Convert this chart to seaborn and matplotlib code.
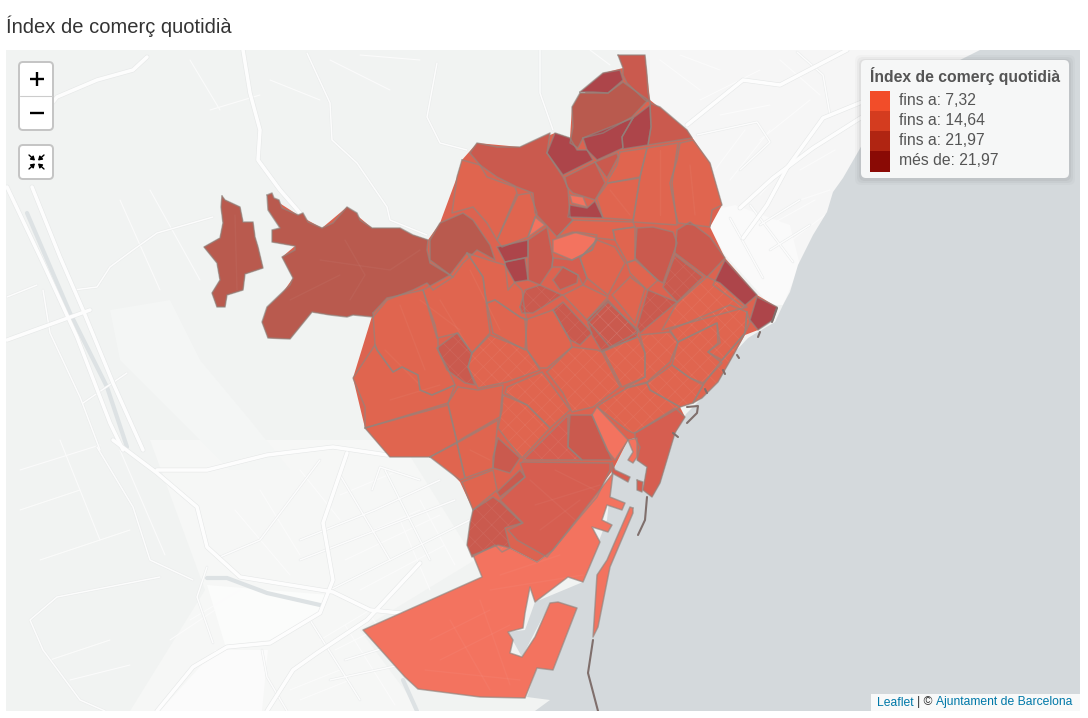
import matplotlib
matplotlib.use("Agg")
import matplotlib.pyplot as plt
from matplotlib.patches import FancyBboxPatch, Polygon, Rectangle
import pandas as pd
import seaborn as sns

# barris: contorns llegits de la imatge (pixels de la captura)
exclave = [(222,196),(225,200),(240,207),(243,222),(253,222),(255,237),(258,247),(263,268),(245,274),(243,290),(227,295),(225,307),(217,307),(212,293),(220,280),(217,263),(204,247),(220,238),(223,223),(221,207)]
vallvidrera = [(267,195),(272,193),(274,198),(279,200),(282,208),(298,215),(303,213),(308,222),(322,228),(333,223),(347,207),(357,213),(360,220),(372,228),(400,228),(413,235),(428,240),(427,250),(430,263),(453,277),(433,290),(427,283),(413,290),(387,300),(373,317),(353,315),(347,317),(330,315),(312,312),(290,339),(268,338),(262,322),(267,307),(290,285),(293,278),(282,257),(295,250),(295,246),(272,242),(272,230),(280,228),(268,210)]
sarria = [(430,240),(440,223),(463,213),(473,220),(490,245),(495,260),(477,250),(463,263),(453,277),(430,260)]
tibidabo = [(462,160),(480,165),(487,177),(515,187),(517,193),(497,240),(487,223),(473,207),(452,213),(457,177)]
putxet = [(518,195),(530,193),(537,213),(528,237),(502,247),(497,240)]
farro = [(535,217),(545,225),(528,237)]
vallcarca = [(497,247),(528,240),(528,257),(505,262)]
coll = [(505,262),(525,258),(528,280),(515,282),(508,290)]
gracia_nord = [(547,227),(553,258),(552,267),(540,285),(528,280),(528,240)]
parc_guell = [(553,240),(577,232),(597,235),(592,250),(572,260),(553,252)]
carmel = [(553,258),(572,260),(592,250),(597,240),(580,258),(587,278),(583,285),(578,275),(563,267),(552,267)]
horta = [(470,153),(477,143),(497,147),(520,147),(550,133),(547,153),(563,177),(568,188),(570,217),(573,220),(557,237),(548,227),(535,213),(533,193),(517,187),(497,177),(480,165)]
vall_hebron = [(547,153),(555,133),(570,138),(577,150),(587,150),(593,160),(563,175)]
montbau = [(565,177),(595,162),(605,183),(595,200),(573,193),(567,187)]
canyelles = [(595,162),(617,153),(618,157),(607,178)]
guineueta = [(570,195),(583,197),(587,207),(572,203)]
can_baro = [(570,205),(587,208),(595,201),(603,218),(568,217)]
ciutat_meridiana = [(618,55),(645,55),(647,75),(648,92),(650,102),(645,100),(627,83),(623,75),(623,68)]
torre_baro = [(580,92),(603,73),(620,70),(623,80),(608,93),(593,92)]
roquetes = [(580,93),(608,93),(623,82),(648,100),(632,117),(603,133),(583,138),(578,148),(570,143),(573,127),(572,107)]
trinitat_nova = [(583,138),(623,122),(633,118),(622,137),(623,148),(597,160),(587,150)]
prosperitat = [(633,118),(650,105),(651,127),(648,145),(623,149),(622,137)]
vallbona = [(650,103),(660,107),(687,130),(692,138),(648,145),(651,127)]
bon_pastor = [(680,143),(693,140),(710,163),(722,205),(712,210),(710,227),(678,223),(675,210),(670,183),(677,160)]
sant_andreu = [(647,148),(678,143),(672,183),(677,225),(633,222),(640,177)]
turo_peira = [(620,152),(647,148),(640,177),(608,183),(607,182),(617,165)]
porta = [(608,183),(640,178),(633,220),(603,218),(597,198)]
maragall = [(573,220),(633,222),(635,227),(613,230),(615,240),(597,238),(573,232),(557,237)]
congres = [(613,230),(635,227),(635,260),(627,262),(615,240)]
verneda = [(637,228),(653,227),(673,232),(677,243),(663,283),(657,280),(635,258)]
la_pau = [(677,230),(690,222),(710,237),(725,258),(707,277),(675,253)]
clot = [(675,255),(703,277),(677,302),(663,287)]
besos = [(725,260),(757,295),(743,307),(713,285)]
forum = [(757,297),(777,307),(773,320),(758,330),(750,320)]
guinardo = [(597,240),(615,247),(625,263),(608,295),(587,278),(580,258)]
camp_arpa = [(627,263),(635,260),(658,280),(647,290),(630,273)]
sagrera = [(630,277),(645,288),(635,323),(612,295)]
baix_guinardo = [(563,295),(583,285),(608,297),(587,320)]
sagrada_familia = [(608,300),(638,332),(610,347),(587,320)]
poblenou_nord = [(648,290),(677,302),(640,333),(637,327)]
diagonal_mar = [(707,277),(720,283),(747,307),(662,330),(677,303)]
mar_bella = [(747,312),(750,322),(745,333),(735,352),(718,382),(702,398),(693,403),(703,385),(722,360),(745,333)]
pedralbes = [(375,345),(353,378),(365,407),(365,428),(448,403),(455,385),(432,395),(420,390),(418,375),(402,367),(393,372),(377,350)]
sant_gervasi = [(373,313),(387,298),(423,290),(435,325),(438,340),(438,350),(447,367),(455,385),(432,395),(420,390),(418,375),(402,367),(393,372),(377,350),(375,345)]
bonanova = [(423,290),(450,275),(467,253),(483,277),(485,293),(490,333),(472,353),(458,333),(437,338)]
galvany = [(437,348),(457,333),(472,353),(468,367),(475,385),(465,383),(447,370)]
tres_torres = [(467,253),(495,262),(505,265),(515,283),(522,290),(525,313),(527,320),(520,317),(495,300),(487,303),(485,293),(483,277)]
vila_gracia = [(493,333),(525,350),(527,320),(520,317),(495,300),(487,303)]
maternitat = [(472,353),(490,335),(527,350),(540,370),(507,382),(478,388),(468,367)]
camp_grassot = [(525,320),(553,310),(570,340),(572,347),(547,368),(540,368),(527,350)]
salut = [(520,307),(525,290),(540,285),(562,295),(533,313),(522,313)]
baix_carmel = [(553,280),(563,267),(578,275),(577,283),(560,290)]
dreta_nord = [(553,310),(563,302),(592,333),(580,345),(570,340)]
dreta_eixample = [(547,372),(572,347),(597,350),(602,352),(620,387),(593,407),(572,412),(563,393)]
antiga_esquerra = [(507,387),(542,372),(570,410),(550,428),(527,405),(505,393)]
fort_pienc = [(603,350),(638,337),(645,353),(645,377),(622,387)]
sagrada_sud = [(588,323),(608,302),(638,330),(637,337),(602,352),(592,335)]
parc_llacuna = [(640,335),(670,332),(678,342),(670,362),(647,382),(625,388),(645,377),(645,353)]
vila_olimpica = [(678,342),(717,323),(720,343),(708,352),(722,363),(703,383),(690,378),(672,365)]
poblenou = [(670,330),(730,305),(747,312),(745,333),(722,360),(708,352),(718,343),(717,323),(678,342)]
sant_pere = [(647,383),(672,365),(690,378),(703,385),(693,403),(680,407),(650,390)]
gotic = [(602,403),(627,388),(647,383),(650,390),(680,407),(637,432),(633,433),(627,430),(597,407)]
barceloneta = [(635,433),(675,408),(685,417),(675,433),(660,483),(652,497),(643,490),(647,467),(637,460),(640,447),(635,438)]
raval_sud = [(592,415),(597,407),(628,440),(615,460),(607,450)]
raval = [(570,415),(592,415),(612,460),(582,460),(568,447)]
sant_antoni = [(568,415),(568,447),(582,460),(523,460),(550,433)]
esquerra_baixa = [(503,395),(527,405),(550,428),(522,458),(507,440),(498,428),(502,410)]
les_corts = [(458,387),(478,390),(503,385),(500,417),(498,418),(465,437),(457,442),(448,403)]
pedralbes_sud = [(365,428),(448,405),(457,442),(430,457),(420,457),(390,457)]
sants_nord = [(457,443),(498,420),(493,468),(465,478)]
badal = [(430,457),(457,443),(465,478),(460,480)]
sants = [(498,438),(520,458),(510,473),(493,468),(493,457)]
bordeta = [(462,482),(493,470),(497,490),(473,510)]
hostafrancs = [(497,492),(520,470),(525,477),(500,497)]
marina_port = [(473,510),(493,497),(500,502),(522,523),(505,528),(510,548),(502,552),(495,545),(472,557),(467,545),(470,523)]
montjuic = [(523,462),(610,463),(610,470),(597,497),(580,517),(547,557),(517,540),(508,530),(523,523),(500,500),(525,477),(520,463)]
zona_franca = [(473,555),(498,545),(510,548),(537,562),(553,550),(613,473),(610,497),(625,503),(622,510),(607,505),(602,520),(612,525),(608,532),(592,527),(600,542),(583,582),(568,577),(535,602),(530,587),(525,613),(523,628),(508,632),(513,640),(510,653),(522,657),(535,637),(550,603),(558,602),(577,608),(553,670),(537,668),(525,698),(480,697),(418,689),(405,677),(363,630),(482,577)]
dic_sud = [(633,508),(630,507),(607,560),(597,575),(593,637),(598,627),(610,567),(633,513)]
moll_llum = [(628,440),(637,438),(637,457),(633,463),(628,460),(633,452)]
moll_dark = [(612,463),(615,470),(630,477),(628,482),(612,473)]
moll_petit = [(637,480),(643,482),(642,492),(637,490)]
ciutat = [(267,195),(298,215),(322,228),(347,207),(372,228),(413,235),(428,240),(440,223),(457,177),(462,160),(477,143),(520,147),(555,133),(570,138),(572,107),(603,73),(623,68),(618,55),(645,55),(650,100),(687,130),(710,163),(722,205),(710,227),(725,258),(757,295),(777,307),(758,330),(745,335),(718,382),(702,398),(693,403),(680,407),(685,417),(675,433),(660,483),(652,497),(643,490),(647,467),(637,460),(635,438),(628,440),(613,470),(553,550),(537,562),(510,548),(473,555),(467,545),(473,510),(460,482),(430,450),(420,457),(390,457),(365,428),(353,378),(373,313),(330,315),(312,312),(290,339),(268,338),(262,322),(293,278),(282,257),(295,246),(272,242),(280,228)]

# nivell de color de cada barri, i si te la trama de l'Eixample
colors_nivell = {"a": "#f3735f", "b": "#e0654f", "c": "#d65e50", "d": "#ca5a4e", "e": "#b95a4e", "f": "#ad454a"}
barris = [
    (exclave, "e", 0), (vallvidrera, "e", 0), (sarria, "e", 0), (tibidabo, "b", 0), (putxet, "b", 0),
    (farro, "a", 0), (vallcarca, "f", 0), (coll, "f", 0), (gracia_nord, "d", 0), (carmel, "c", 0), (parc_guell, "a", 0),
    (horta, "d", 0), (vall_hebron, "f", 0), (montbau, "d", 0), (canyelles, "d", 0), (can_baro, "f", 0),
    (guineueta, "a", 0), (ciutat_meridiana, "d", 0), (torre_baro, "f", 0), (roquetes, "e", 0),
    (trinitat_nova, "f", 0), (prosperitat, "f", 0), (vallbona, "d", 0), (bon_pastor, "b", 0),
    (sant_andreu, "b", 0), (turo_peira, "b", 0), (porta, "b", 0), (maragall, "b", 0), (congres, "b", 0),
    (verneda, "d", 0), (la_pau, "d", 0), (clot, "d", 1), (besos, "f", 0), (forum, "f", 0),
    (guinardo, "b", 0), (camp_arpa, "b", 0), (sagrera, "b", 0), (baix_guinardo, "b", 0),
    (sagrada_familia, "d", 1), (poblenou_nord, "d", 1), (diagonal_mar, "b", 1), (mar_bella, "b", 1), (pedralbes, "b", 0),
    (sant_gervasi, "b", 0), (bonanova, "b", 0), (galvany, "d", 1), (tres_torres, "b", 0), (vila_gracia, "b", 0),
    (maternitat, "b", 1), (camp_grassot, "b", 0), (salut, "d", 1), (baix_carmel, "d", 0), (dreta_nord, "d", 1),
    (dreta_eixample, "b", 1), (antiga_esquerra, "b", 1), (fort_pienc, "b", 1), (sagrada_sud, "d", 1),
    (parc_llacuna, "b", 1), (vila_olimpica, "b", 1), (poblenou, "b", 1), (sant_pere, "b", 1), (gotic, "b", 1),
    (barceloneta, "c", 0), (raval_sud, "a", 0), (raval, "d", 0), (sant_antoni, "c", 1), (esquerra_baixa, "b", 1),
    (les_corts, "b", 0), (pedralbes_sud, "b", 0), (sants_nord, "b", 0), (badal, "b", 0), (sants, "d", 0),
    (bordeta, "b", 0), (hostafrancs, "d", 0), (marina_port, "d", 1), (montjuic, "c", 0), (zona_franca, "a", 0),
    (dic_sud, "a", 0), (moll_llum, "a", 0), (moll_dark, "c", 0), (moll_petit, "c", 0),
]

# fons de mapa
mar = [(1080,50),(980,50),(930,75),(862,145),(843,178),(833,192),(827,212),(813,235),(798,265),(790,292),(783,305),(775,322),(758,332),(748,338),(735,352),(718,382),(702,398),(686,414),(677,432),(640,440),(628,440),(612,473),(607,520),(583,582),(535,602),(525,630),(508,632),(522,657),(550,603),(577,608),(553,670),(537,668),(527,697),(550,700),(535,711),(1080,711)]
zona_urbana_sud = [(150,440),(400,440),(475,560),(360,630),(420,711),(130,711),(205,590)]
zona_urbana_nord = [(650,50),(985,50),(862,145),(783,305),(760,295),(720,205),(650,100)]
zona_blanca_nord = [(712,210),(735,205),(790,225),(800,265),(783,305),(770,305),(725,255),(710,228)]
zona_blanca_vall = [(207,585),(330,595),(320,613),(270,640),(225,645)]
zona_blanca_baix = [(160,711),(215,650),(268,650),(262,711)]
zona_clara = [(110,310),(170,300),(200,360),(250,420),(290,470),(230,470),(160,400),(120,360)]
autopistes = [
    [(113,440),(157,473),(197,507),(207,547),(240,577),(333,592),(370,610),(420,615)],
    [(157,470),(207,470),(267,455),(333,447),(387,455)],
    [(347,453),(323,523),(333,580),(320,613),(270,643),(227,647),(193,667),(157,711)],
    [(420,563),(367,620),(317,653),(293,670),(267,711)],
    [(687,125),(743,80),(780,85),(847,50)],
    [(862,102),(823,118),(787,168),(767,205),(743,238)],
    [(740,208),(773,178),(813,148),(862,117)],
    [(243,50),(250,93),(260,130),(258,160),(280,190),(300,213)],
    [(32,187),(60,257),(83,310),(113,383),(143,450)],
    [(7,187),(43,263),(77,337),(110,423),(123,450)],
    [(7,340),(90,310)],
    [(147,57),(133,70),(97,80),(57,97),(45,112)],
]
carrers = [
    [(307,53),(330,103),(332,140),(357,163),(387,207),(390,220),(427,235)],
    [(437,63),(427,117),(440,143),(467,150)],
    [(540,50),(540,93),(553,130)],
    [(213,217),(157,233),(133,250),(110,267),(97,287),(73,290)],
    [(7,297),(37,285)],
    [(83,403),(127,373)],
    [(43,290),(50,333),(80,397),(100,450)],
    [(97,447),(133,507),(150,560),(193,580)],
    [(160,577),(57,597),(30,620),(43,650),(80,700),(105,711)],
    [(207,567),(197,597),(213,643)],
    [(220,557),(260,540),(320,460)],
    [(262,650),(267,677),(287,711)],
    [(372,490),(380,467),(420,480)],
    [(730,218),(763,278)],
    [(750,205),(793,262)],
    [(697,135),(757,122),(770,142),(740,170)],
    [(797,52),(823,75),(830,115)],
    [(300,540),(375,510),(440,480)],
    [(300,560),(390,525),(455,500)],
    [(330,590),(410,550),(470,520)],
    [(340,475),(390,560)],
    [(385,470),(430,560)],
    [(310,620),(360,700)],
    [(345,660),(410,640)],
    [(330,680),(400,665)],
    [(770,250),(810,225)],
    [(760,225),(800,200)],
]
carrerons = [
    [(300,470),(340,520)],[(260,490),(300,555)],[(235,510),(290,575)],[(350,540),(420,510)],[(345,560),(440,515)],
    [(340,495),(400,470)],[(360,590),(445,545)],[(400,520),(430,590)],[(420,500),(455,565)],[(320,640),(370,610)],
    [(335,650),(385,625)],[(345,625),(395,705)],[(370,615),(420,685)],[(290,690),(340,670)],[(300,700),(350,680)],
    [(190,620),(240,590)],[(170,640),(215,610)],[(120,450),(165,555)],[(60,440),(100,540)],[(20,470),(100,445)],
    [(20,510),(80,490)],[(40,560),(130,530)],[(50,660),(110,640)],[(70,680),(130,665)],[(120,200),(160,290)],
    [(150,190),(200,280)],[(700,100),(760,70)],[(720,115),(770,105)],[(760,140),(810,100)],[(780,60),(820,95)],
    [(715,170),(745,130)],[(730,180),(770,130)],[(760,195),(800,150)],[(800,170),(835,150)],[(770,225),(815,200)],
    [(785,245),(825,215)],[(800,200),(830,190)],[(330,60),(390,90)],[(360,55),(420,60)],[(590,50),(610,65)],
    [(660,60),(700,90)],[(680,55),(720,70)],[(190,60),(220,110)],[(210,110),(260,95)],[(270,80),(320,100)],
]
carrers_ciutat = [
    [(345,240),(365,275),(350,300)],[(320,260),(390,270),(420,250)],[(290,300),(340,275)],[(235,215),(237,290)],
    [(420,300),(460,330)],[(400,305),(425,370)],[(470,270),(500,330)],[(440,300),(470,350)],
    [(535,505),(600,485)],[(540,530),(580,500)],[(530,480),(575,520)],[(555,470),(595,490)],
    [(430,640),(490,610)],[(440,660),(510,625)],[(425,670),(520,680)],[(450,620),(490,690)],[(480,600),(510,685)],
    [(490,590),(583,575)],[(500,575),(560,555)],[(540,610),(565,580)],[(660,150),(660,215)],[(690,165),(695,215)],
    [(610,190),(630,215)],[(385,350),(420,385)],[(390,400),(440,385)],[(470,450),(490,460)],
]
rius = [
    [(207,578),(227,578),(267,593),(320,605)],
    [(403,680),(417,711)],
    [(27,213),(70,313),(107,387),(127,447)],
]
espigons = [
    [(593,640),(588,673),(598,711)],
    [(647,497),(645,520),(638,535)],
    [(687,407),(698,406),(697,413),(687,423)],
    [(673,433),(678,437)],
    [(705,389),(707,393)],
    [(723,370),(725,374)],
    [(737,355),(739,358)],
    [(777,308),(772,322)],
    [(760,332),(758,337)],
]

# llegenda
llegenda_titol = "Índex de comerç quotidià"
llegenda_etiquetes = ["fins a: 7,32", "fins a: 14,64", "fins a: 21,97", "més de: 21,97"]
llegenda_colors = ["#f24d29", "#d43c1f", "#b02512", "#8a0a05"]


def a_llarg(camins, tancar=False):
    files = []
    for i, cami in enumerate(camins):
        punts = list(cami) + [cami[0]] if tancar else cami
        for ordre, (x, y) in enumerate(punts):
            files.append({"id": i, "ordre": ordre, "x": x, "y": y})
    return pd.DataFrame(files)


def linies(ax, camins, color, amplada, z, tancar=False, alpha=1.0):
    sns.lineplot(data=a_llarg(camins, tancar), x="x", y="y", units="id", estimator=None,
                 sort=False, color=color, linewidth=amplada, alpha=alpha, legend=False,
                 ax=ax, zorder=z, solid_joinstyle="round")


def caixa(ax, x, y, w, h, cara, vora="none", lw=0.0, z=8, radi=4, alpha=1.0):
    ax.add_patch(FancyBboxPatch((x, y), w, h, boxstyle=f"round,pad=0,rounding_size={radi}",
                                facecolor=cara, edgecolor=vora, linewidth=lw, zorder=z, alpha=alpha))


sns.set_theme(style="white")
plt.rcParams["font.family"] = ["Liberation Sans", "DejaVu Sans"]
plt.rcParams["hatch.linewidth"] = 0.5

fig = plt.figure(figsize=(10.88, 7.18), dpi=100, facecolor="white")
ax = fig.add_axes([0, 0, 1, 1])

# fons
ax.add_patch(Rectangle((6, 50), 1074, 661, facecolor="#f1f3f2", edgecolor="none", zorder=0))
for zona, color in [(zona_urbana_sud, "#f6f7f6"), (zona_urbana_nord, "#f6f6f6"), (zona_clara, "#f4f6f5"),
                    (zona_blanca_nord, "#fafafa"), (zona_blanca_vall, "#fbfcfb"), (zona_blanca_baix, "#fbfbfb")]:
    ax.add_patch(Polygon(zona, facecolor=color, edgecolor="none", zorder=0.2))
linies(ax, rius, "#dde2e4", 3.0, 0.4)
linies(ax, carrerons, "#fbfbfb", 0.8, 0.45)
linies(ax, carrers, "#e9ebeb", 1.8, 0.5)
linies(ax, carrers, "#fcfcfc", 1.1, 0.6)
linies(ax, autopistes, "#e6e8e8", 3.4, 0.7)
linies(ax, autopistes, "#fdfdfd", 2.6, 0.8)
ax.add_patch(Polygon(mar, facecolor="#d4d9dc", edgecolor="none", zorder=1))

# barris
ax.add_patch(Polygon(ciutat, facecolor="#dc6350", edgecolor="none", zorder=2))
ax.add_patch(Polygon(exclave, facecolor="#b95a4e", edgecolor="none", zorder=2))
for poligon, nivell, trama in barris:
    ax.add_patch(Polygon(poligon, facecolor=colors_nivell[nivell], edgecolor="none", zorder=2.1))
    if trama:
        ax.add_patch(Polygon(poligon, facecolor="none", edgecolor=(1, 1, 1, 0.07), hatch="xx", linewidth=0, zorder=2.2))
linies(ax, carrers_ciutat, "white", 1.0, 2.3, alpha=0.04)
linies(ax, [b[0] for b in barris], "#8f8680", 1.1, 3, tancar=True, alpha=0.65)
linies(ax, espigons, "#7f6f6c", 1.5, 3)

# marges blancs fora del mapa
for marge in [(0, 0, 1088, 50), (0, 711, 1088, 7), (0, 0, 6, 718), (1080, 0, 8, 718)]:
    ax.add_patch(Rectangle(marge[:2], marge[2], marge[3], facecolor="white", edgecolor="none", zorder=5))
ax.text(6, 26, llegenda_titol, fontsize=14.5, color="#333333", va="center", ha="left", zorder=6)

# controls
caixa(ax, 19, 62, 34, 68, "white", "#c4c4c4", 1.4)
ax.plot([20, 52], [96, 96], color="#cccccc", lw=0.8, zorder=9)
ax.plot([30, 44], [79, 79], color="black", lw=1.7, zorder=9, solid_capstyle="butt")
ax.plot([37, 37], [72, 86], color="black", lw=1.7, zorder=9, solid_capstyle="butt")
ax.plot([30, 44], [113, 113], color="black", lw=1.7, zorder=9, solid_capstyle="butt")
caixa(ax, 19, 145, 34, 34, "white", "#c4c4c4", 1.4)
for sx, sy in [(-1, -1), (1, -1), (-1, 1), (1, 1)]:
    ax.annotate("", xy=(36.5 + sx * 1.5, 162 + sy * 1.5), xytext=(36.5 + sx * 7.5, 162 + sy * 7), zorder=9,
                arrowprops=dict(arrowstyle="-|>,head_width=0.12,head_length=0.18", color="black", lw=1.0, shrinkA=0, shrinkB=0))

# llegenda
for d, a in [(6, 0.02), (4, 0.03), (2, 0.04)]:
    caixa(ax, 861 - d, 60 - d + 1, 208 + 2 * d, 118 + 2 * d, "black", z=7, radi=6, alpha=a)
caixa(ax, 861, 60, 208, 118, "#f6f7f7", radi=5)
ax.text(870, 76, llegenda_titol, fontsize=11.3, fontweight="bold", color="#555555", va="center", ha="left", zorder=9)
for i, (etiqueta, color) in enumerate(zip(llegenda_etiquetes, llegenda_colors)):
    ax.add_patch(Rectangle((870, 91 + 20 * i), 20, 21 if i == 3 else 20, facecolor=color, edgecolor="none", zorder=9))
    ax.text(899, 100.5 + 20 * i, etiqueta, fontsize=11.3, color="#555555", va="center", ha="left", zorder=9)

# atribucio
ax.add_patch(Rectangle((871, 694), 209, 17, facecolor="white", edgecolor="none", alpha=0.85, zorder=8))
ax.text(877, 702.5, "Leaflet", fontsize=8.7, color="#0078a8", va="center", ha="left", zorder=9)
ax.text(917, 702.5, "| ©", fontsize=8.7, color="#333333", va="center", ha="left", zorder=9)
ax.text(935.5, 702.5, "Ajuntament de Barcelona", fontsize=8.7, color="#0078a8", va="center", ha="left", zorder=9)

ax.set_xlim(0, 1088)
ax.set_ylim(718, 0)
ax.set_axis_off()
fig.savefig("out.png", dpi=100)
